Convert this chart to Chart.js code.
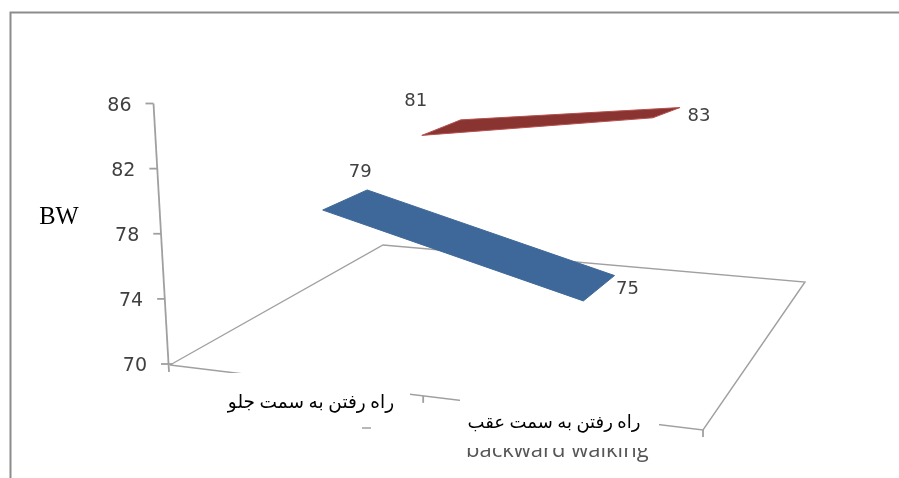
<!DOCTYPE html>
<html>
<head>
<meta charset="utf-8">
<style>
  html, body { margin: 0; padding: 0; background: #fff; }
  canvas { display: block; }
</style>
<script src="https://cdn.jsdelivr.net/npm/chart.js@4"></script>
</head>
<body>
<canvas id="chart" width="899" height="478"></canvas>
<script>
// Data
var categoryLabels = ["راه رفتن به سمت جلو", "راه رفتن به سمت عقب"];
var hiddenLabel = "backward walking";
var blueValues = [79, 75];
var redValues = [81, 83];
var yMin = 70, yMax = 86, yStep = 4;
var yTitle = "BW";

// 3D look: floor corners in pixels, and pixels per unit of height at each corner
var floor = {fl: [170, 365], fr: [703, 430], bl: [383, 245], br: [805, 282]};
var unitHeight = {fl: 16.9, fr: 21.5, bl: 13.2, br: 13.3};
var categoryPos = [0.25, 0.75];
var blueDepth = [0.105, 0.345];
var redDepth = [0.64, 0.85];
var axisTop = 103.5, axisBottom = 364;
var pxPerUnit = (axisBottom - axisTop) / (yMax - yMin);

function mix(c, d, a, b, e, f) {
    return (a * (1 - c) + b * c) * (1 - d) + (e * (1 - c) + f * c) * d;
}

// category position c (0-1), depth d (0-1), value v -> point for the chart scales
function project(c, d, v) {
    var x = mix(c, d, floor.fl[0], floor.fr[0], floor.bl[0], floor.br[0]);
    var y = mix(c, d, floor.fl[1], floor.fr[1], floor.bl[1], floor.br[1]);
    var h = mix(c, d, unitHeight.fl, unitHeight.fr, unitHeight.bl, unitHeight.br);
    y = y - h * (v - yMin);
    return {x: x, y: yMin + (axisBottom - y) / pxPerUnit};
}

function ribbon(values, depth) {
    return [
        project(categoryPos[0], depth[0], values[0]),
        project(categoryPos[0], depth[1], values[0]),
        project(categoryPos[1], depth[1], values[1]),
        project(categoryPos[1], depth[0], values[1]),
        project(categoryPos[0], depth[0], values[0])
    ];
}

var floorLine = [
    project(0, 0, yMin), project(0, 1, yMin), project(1, 1, yMin), project(1, 0, yMin), project(0, 0, yMin)
];

// Frame, slanted value axis, tick marks, labels and the white patches
var decorations = {
    id: "decorations",
    beforeDraw: function (chart) {
        var ctx = chart.ctx;
        ctx.save();
        ctx.strokeStyle = "#8c8c8c";
        ctx.lineWidth = 2;
        ctx.beginPath();
        ctx.moveTo(10.5, 478);
        ctx.lineTo(10.5, 12.5);
        ctx.lineTo(899, 12.5);
        ctx.stroke();
        ctx.restore();
    },
    afterDatasetsDraw: function (chart) {
        var ctx = chart.ctx, yScale = chart.scales.y, xScale = chart.scales.x;
        ctx.save();

        // value axis
        var slant = 15.5 / (yMax - yMin);
        function axisX(v) { return floor.fl[0] - 1 - (v - yMin) * slant; }
        ctx.strokeStyle = "#a0a0a0";
        ctx.lineWidth = 1.8;
        ctx.beginPath();
        ctx.moveTo(axisX(yMax), yScale.getPixelForValue(yMax));
        ctx.lineTo(axisX(yMin), yScale.getPixelForValue(yMin) + 8);
        ctx.stroke();

        ctx.font = "19px 'DejaVu Sans'";
        ctx.fillStyle = "#404040";
        ctx.textAlign = "right";
        ctx.textBaseline = "middle";
        yScale.ticks.forEach(function (t) {
            var px = yScale.getPixelForValue(t.value), ax = axisX(t.value);
            ctx.beginPath();
            ctx.moveTo(ax - 8, px);
            ctx.lineTo(t.value === yMin ? ax + 3 : ax, px);
            ctx.stroke();
            ctx.fillText(t.label, ax - 22, px + 2.5);
        });

        // category ticks on the front edge of the floor
        [0.475, 1].forEach(function (c) {
            var p = project(c, 0, yMin);
            ctx.beginPath();
            ctx.moveTo(xScale.getPixelForValue(p.x), yScale.getPixelForValue(p.y));
            ctx.lineTo(xScale.getPixelForValue(p.x), yScale.getPixelForValue(p.y) + 7);
            ctx.stroke();
        });

        // value labels
        var valueLabels = [
            [categoryPos[0], blueDepth[1], blueValues[0], -7, -18],
            [categoryPos[1], blueDepth[1], blueValues[1], 13, 14],
            [categoryPos[0], redDepth[1], redValues[0], -45, -19],
            [categoryPos[1], redDepth[1], redValues[1], 19, 9]
        ];
        ctx.font = "18px 'DejaVu Sans'";
        ctx.textAlign = "center";
        valueLabels.forEach(function (l) {
            var p = project(l[0], l[1], l[2]);
            ctx.fillText(String(l[2]), xScale.getPixelForValue(p.x) + l[3], yScale.getPixelForValue(p.y) + l[4]);
        });

        // text half hidden under the second patch
        ctx.fillStyle = "#555";
        ctx.font = "22px 'Open Sans'";
        ctx.textAlign = "left";
        ctx.textBaseline = "alphabetic";
        ctx.fillText(hiddenLabel, 466, 457);

        // white patches with the Persian labels
        ctx.fillStyle = "#fff";
        ctx.fillRect(190, 373, 220, 55);
        ctx.fillRect(460, 394, 199, 54);
        ctx.strokeStyle = "#b0b0b0";
        ctx.beginPath();
        ctx.moveTo(362, 428);
        ctx.lineTo(371, 428);
        ctx.stroke();

        ctx.fillStyle = "#000";
        ctx.font = "18.5px 'Liberation Serif', 'DejaVu Sans'";
        ctx.textAlign = "center";
        ctx.textBaseline = "middle";
        ctx.fillText(categoryLabels[0], 311, 403);
        ctx.font = "18px 'Liberation Serif', 'DejaVu Sans'";
        ctx.fillText(categoryLabels[1], 554, 423);

        ctx.font = "24.5px 'Liberation Serif'";
        ctx.fillStyle = "#000";
        ctx.fillText(yTitle, 59, 218);
        ctx.restore();
    }
};

var ctx = document.getElementById("chart").getContext("2d");
var chart = new Chart(ctx, {
    type: "scatter",
    data: {
        datasets: [
            {
                label: "floor",
                data: floorLine,
                showLine: true,
                borderColor: "#a0a0a0",
                borderWidth: 1.4,
                pointRadius: 0,
                clip: false,
                order: 3
            },
            {
                label: "forward",
                data: ribbon(blueValues, blueDepth),
                showLine: true,
                fill: "shape",
                backgroundColor: "#3e6899",
                borderColor: "#3e6899",
                borderWidth: 1,
                pointRadius: 0,
                clip: false,
                order: 1
            },
            {
                label: "backward",
                data: ribbon(redValues, redDepth),
                showLine: true,
                fill: "shape",
                backgroundColor: "#8a3431",
                borderColor: "#b5514e",
                borderWidth: 1,
                pointRadius: 0,
                clip: false,
                order: 2
            }
        ]
    },
    options: {
        responsive: false,
        animation: false,
        layout: {padding: {top: axisTop, bottom: 478 - axisBottom, left: 0, right: 0}},
        plugins: {legend: {display: false}, tooltip: {enabled: false}},
        scales: {
            x: {type: "linear", display: false, min: 0, max: 899},
            y: {type: "linear", display: false, min: yMin, max: yMax, ticks: {stepSize: yStep}}
        }
    },
    plugins: [decorations]
});
</script>
</body>
</html>
